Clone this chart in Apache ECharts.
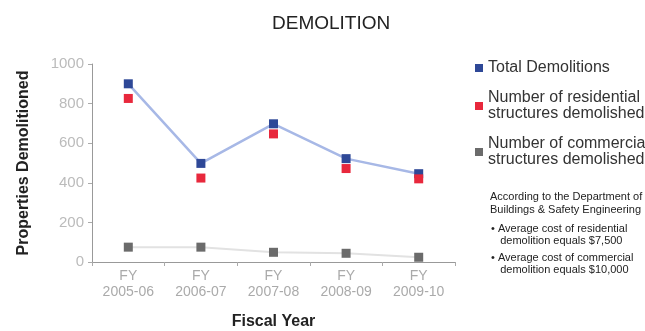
<!DOCTYPE html>
<html>
<head>
<meta charset="utf-8">
<script src="https://cdn.jsdelivr.net/npm/echarts@6/dist/echarts.min.js"></script>
<style>
  html, body { margin: 0; padding: 0; background: #fff; }
  #chart { width: 645px; height: 331px; }
</style>
</head>
<body>
<div id="chart"></div>
<script>
// fiscal years on the x axis
const years = ['FY\n2005-06', 'FY\n2006-07', 'FY\n2007-08', 'FY\n2008-09', 'FY\n2009-10'];
const totalDemolitions = [900, 498, 698, 522, 446];
const residential = [826, 424, 647, 472, 420];
const commercial = [75, 75, 49, 44, 24];
const yTicks = [0, 200, 400, 600, 800, 1000];

const legendNames = {
  'Total Demolitions': 'Total Demolitions',
  'Residential': 'Number of residential\nstructures demolished',
  'Commercial': 'Number of commercial\nstructures demolished'
};

let myChart = echarts.init(document.getElementById('chart'));

let option = {
  animation: false,
  title: {
    text: 'DEMOLITION',
    left: 267,
    top: 9,
    textStyle: { fontFamily: 'Liberation Sans', fontSize: 19, fontWeight: 'normal', color: '#222' }
  },
  grid: { left: 92, right: 190, top: 64, bottom: 69, outerBoundsMode: 'none' },
  legend: {
    orient: 'vertical',
    left: 470,
    top: 55,
    itemWidth: 8,
    itemHeight: 8,
    itemGap: 14,
    icon: 'rect',
    formatter: name => legendNames[name],
    textStyle: { fontFamily: 'Liberation Sans', fontSize: 16, color: '#333', lineHeight: 16 },
    data: ['Total Demolitions', 'Residential', 'Commercial']
  },
  xAxis: {
    type: 'category',
    data: years,
    name: 'Fiscal Year',
    nameLocation: 'middle',
    nameGap: 52,
    nameTextStyle: { fontFamily: 'Liberation Sans', fontSize: 16, fontWeight: 'bold', color: '#222' },
    axisLine: { lineStyle: { color: '#999' } },
    axisTick: { show: true, length: 4, lineStyle: { color: '#aaa' } },
    axisLabel: {
      fontFamily: 'Liberation Sans', fontSize: 14, color: '#aaa', lineHeight: 16, margin: 6
    }
  },
  yAxis: {
    type: 'value',
    min: 0,
    max: 1000,
    interval: 200,
    name: 'Properties Demolitioned',
    nameLocation: 'middle',
    nameGap: 60,
    nameTextStyle: { fontFamily: 'Liberation Sans', fontSize: 16, fontWeight: 'bold', color: '#222' },
    axisLine: { show: true, lineStyle: { color: '#999' } },
    axisTick: { show: true, length: 4, lineStyle: { color: '#aaa' } },
    splitLine: { show: false },
    axisLabel: {
      fontFamily: 'Liberation Sans', fontSize: 15, color: '#bbb', margin: 8,
      formatter: v => yTicks.includes(v) ? String(v) : ''
    }
  },
  series: [
    {
      name: 'Total Demolitions',
      type: 'line',
      data: totalDemolitions,
      symbol: 'rect',
      symbolSize: 9,
      z: 3,
      lineStyle: { color: '#a7b8e6', width: 2.5 },
      itemStyle: { color: '#2e4897' }
    },
    {
      name: 'Residential',
      type: 'line',
      data: residential,
      symbol: 'rect',
      symbolSize: 9,
      lineStyle: { width: 0, opacity: 0 },
      itemStyle: { color: '#e8283c' }
    },
    {
      name: 'Commercial',
      type: 'line',
      data: commercial,
      symbol: 'rect',
      symbolSize: 9,
      lineStyle: { color: '#e2e2e2', width: 2 },
      itemStyle: { color: '#6b6b6b' }
    }
  ],
  graphic: [
    {
      type: 'text',
      left: 490,
      top: 190,
      style: {
        text: 'According to the Department of\nBuildings & Safety Engineering',
        font: '11px "Liberation Sans Narrow", "Liberation Sans"',
        fill: '#222',
        lineHeight: 13
      }
    },
    {
      type: 'text',
      left: 491,
      top: 223,
      style: {
        text: '• Average cost of residential\n   demolition equals $7,500',
        font: '11px "Liberation Sans Narrow", "Liberation Sans"',
        fill: '#222',
        lineHeight: 12
      }
    },
    {
      type: 'text',
      left: 491,
      top: 252,
      style: {
        text: '• Average cost of commercial\n   demolition equals $10,000',
        font: '11px "Liberation Sans Narrow", "Liberation Sans"',
        fill: '#222',
        lineHeight: 12
      }
    }
  ]
};

myChart.setOption(option);
</script>
</body>
</html>
